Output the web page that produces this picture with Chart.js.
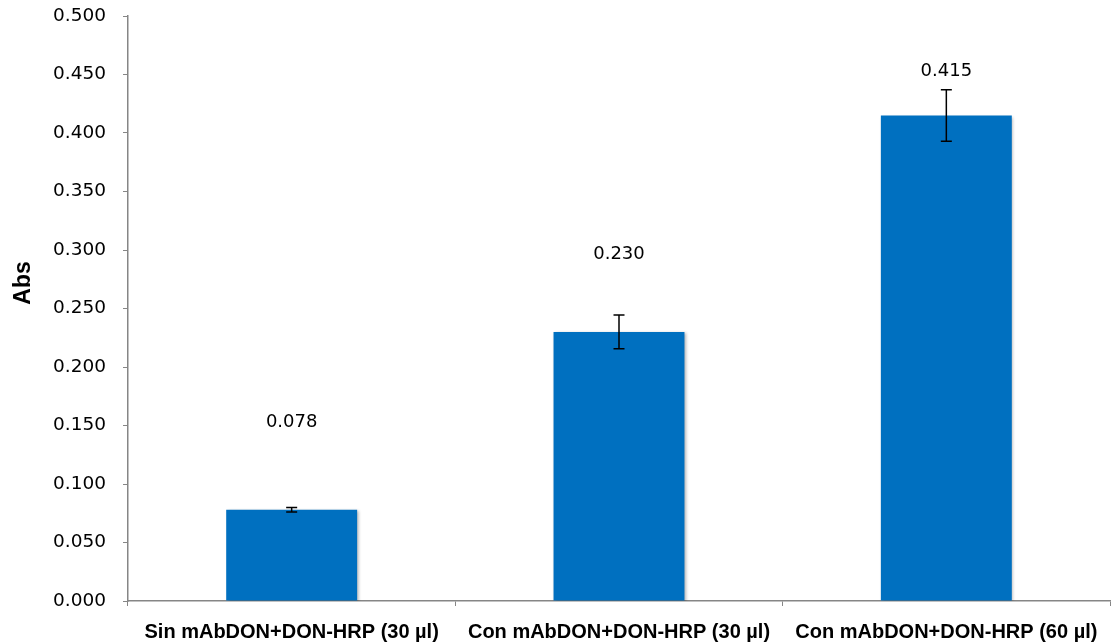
<!DOCTYPE html>
<html>
<head>
<meta charset="utf-8">
<script src="https://cdn.jsdelivr.net/npm/chart.js@4/dist/chart.umd.min.js"></script>
<style>
    html, body { margin: 0; padding: 0; background: #fff; }
    #wrap { width: 1113px; height: 643px; }
</style>
</head>
<body>
<div id="wrap"><canvas id="absChart" width="1113" height="643"></canvas></div>
<script>
// data
const categories = [
    "Sin mAbDON+DON-HRP (30 µl)",
    "Con mAbDON+DON-HRP (30 µl)",
    "Con mAbDON+DON-HRP (60 µl)",
];
const absValues = [0.078, 0.230, 0.415];
const absErrors = [0.002, 0.0145, 0.022];
const yTicks = [0, 0.05, 0.1, 0.15, 0.2, 0.25, 0.3, 0.35, 0.4, 0.45, 0.5];

// how far (px) each value label sits above its bar top
const labelLift = [87, 78, 44];

const axisGrey = "#868686";
const barBlue = "#0070C0";

const errorBars = {
    id: "errorBars",
    afterDatasetsDraw(chart) {
        const ctx = chart.ctx;
        const y = chart.scales.y;
        const meta = chart.getDatasetMeta(0);
        ctx.save();
        ctx.strokeStyle = "#000";
        ctx.lineWidth = 1.5;
        meta.data.forEach((bar, i) => {
            const top = y.getPixelForValue(absValues[i] + absErrors[i]);
            const bot = y.getPixelForValue(absValues[i] - absErrors[i]);
            const half = 5.5;
            ctx.beginPath();
            ctx.moveTo(bar.x, top); ctx.lineTo(bar.x, bot);
            ctx.moveTo(bar.x - half, top); ctx.lineTo(bar.x + half, top);
            ctx.moveTo(bar.x - half, bot); ctx.lineTo(bar.x + half, bot);
            ctx.stroke();
        });
        // value labels
        ctx.fillStyle = "#000";
        ctx.font = "18px 'DejaVu Sans'";
        ctx.textAlign = "center";
        ctx.textBaseline = "middle";
        meta.data.forEach((bar, i) => {
            ctx.fillText(absValues[i].toFixed(3), bar.x, bar.y - labelLift[i]);
        });
        ctx.restore();
    },
};

const barShadow = {
    id: "barShadow",
    beforeDatasetDraw(chart) {
        const ctx = chart.ctx;
        ctx.save();
        ctx.shadowColor = "rgba(0,0,0,0.3)";
        ctx.shadowBlur = 3;
        ctx.shadowOffsetX = 1.5;
        ctx.shadowOffsetY = 1.5;
    },
    afterDatasetDraw(chart) {
        chart.ctx.restore();
    },
};

const yTitle = {
    id: "yTitle",
    afterDraw(chart) {
        const ctx = chart.ctx;
        ctx.save();
        ctx.translate(24, 283);
        ctx.rotate(-Math.PI / 2);
        ctx.font = "bold 23px 'Liberation Sans'";
        ctx.fillStyle = "#000";
        ctx.textAlign = "center";
        ctx.textBaseline = "middle";
        ctx.fillText("Abs", 0, 0);
        ctx.restore();
    },
};

new Chart(document.getElementById("absChart").getContext("2d"), {
    type: "bar",
    data: {
        labels: categories,
        datasets: [{
            data: absValues,
            backgroundColor: barBlue,
            borderWidth: 0,
            categoryPercentage: 1,
            barPercentage: 0.4,
        }],
    },
    options: {
        responsive: false,
        animation: false,
        layout: { padding: { left: 0, right: 3, top: 16, bottom: 0 } },
        plugins: {
            legend: { display: false },
            tooltip: { enabled: false },
        },
        scales: {
            x: {
                grid: {
                    offset: true,
                    drawOnChartArea: false,
                    color: axisGrey,
                    tickLength: 5,
                },
                border: { color: axisGrey, width: 1.5 },
                ticks: {
                    color: "#000",
                    padding: 14,
                    maxRotation: 0,
                    font: { family: "'Liberation Sans'", weight: "bold", size: 20 },
                },
                afterFit(scale) { scale.height = 42; },
            },
            y: {
                min: 0,
                max: 0.5,
                grid: {
                    drawOnChartArea: false,
                    color: axisGrey,
                    tickLength: 5,
                },
                border: { color: axisGrey, width: 1.5 },
                afterBuildTicks(scale) {
                    scale.ticks = yTicks.map((v) => ({ value: v }));
                },
                ticks: {
                    color: "#000",
                    padding: 17,
                    font: { family: "'DejaVu Sans'", size: 18.5 },
                    callback: (v) => Number(v).toFixed(3),
                },
                afterFit(scale) {
                    scale.width = 128;
                    scale.paddingTop = 0;
                    scale.paddingBottom = 0;
                },
            },
        },
    },
    plugins: [barShadow, errorBars, yTitle],
});
</script>
</body>
</html>
